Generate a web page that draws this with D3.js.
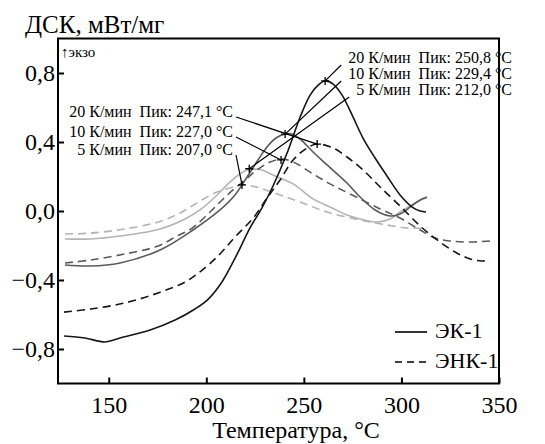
<!DOCTYPE html>
<html>
<head>
<meta charset="utf-8">
<script src="https://cdn.jsdelivr.net/npm/d3@7"></script>
<style>
  html, body { margin: 0; padding: 0; background: #fff; }
  svg text { font-family: "Liberation Serif", "Times New Roman", Times, "DejaVu Serif", serif; }
</style>
</head>
<body>
<div id="chart"></div>
<script>
// ЭК-1 (сплошные линии)
const ek20T = [127.1, 137.8, 148.1, 155.8, 171.2, 184.0, 194.2, 200.9, 208.1, 215.8, 222.4, 228.6, 234.2, 241.4, 248.1, 253.2, 257.3, 260.9, 265.0, 269.6, 274.7, 280.3, 286.5, 292.6, 299.3, 305.5, 309.6, 312.6];
const ek20 = [-0.725, -0.736, -0.759, -0.736, -0.690, -0.632, -0.568, -0.512, -0.410, -0.250, -0.098, 0.020, 0.145, 0.336, 0.545, 0.672, 0.730, 0.754, 0.736, 0.672, 0.557, 0.423, 0.307, 0.203, 0.093, 0.023, 0.000, -0.006];

const ek10T = [127.6, 140.4, 155.8, 176.3, 193.2, 207.0, 214.7, 220.9, 226.5, 231.1, 235.7, 240.4, 243.9, 248.1, 254.7, 261.9, 272.1, 278.8, 286.5, 294.2, 299.3, 304.4, 309.6, 313.1];
const ek10 = [-0.313, -0.319, -0.301, -0.226, -0.110, 0.006, 0.093, 0.197, 0.296, 0.371, 0.423, 0.446, 0.446, 0.417, 0.342, 0.267, 0.162, 0.081, 0.006, -0.029, -0.017, 0.023, 0.064, 0.081];

const ek5T = [127.6, 140.4, 155.8, 176.3, 189.1, 196.8, 204.5, 210.6, 215.8, 220.9, 225.0, 228.6, 235.2, 244.5, 254.7, 263.4, 272.1, 278.8, 287.5, 294.2, 299.3, 304.4, 309.6, 313.1];
const ek5 = [-0.162, -0.162, -0.145, -0.104, -0.046, 0.006, 0.081, 0.151, 0.203, 0.238, 0.243, 0.238, 0.203, 0.157, 0.070, 0.023, -0.023, -0.046, -0.064, -0.046, -0.006, 0.029, 0.064, 0.075];

// ЭНК-1 (штриховые линии)
const enk20T = [127.1, 140.9, 158.3, 175.3, 189.1, 197.3, 206.0, 214.7, 224.0, 231.1, 237.8, 244.5, 251.6, 256.8, 265.0, 272.1, 280.3, 289.1, 299.3, 309.6, 318.3, 327.5, 335.2, 341.3, 345.4];
const enk20 = [-0.586, -0.568, -0.533, -0.475, -0.412, -0.348, -0.261, -0.151, -0.041, 0.075, 0.180, 0.296, 0.365, 0.388, 0.365, 0.313, 0.238, 0.139, 0.029, -0.087, -0.168, -0.238, -0.278, -0.290, -0.284];

const enk10T = [127.6, 140.9, 158.3, 175.3, 185.0, 192.2, 201.9, 208.1, 213.7, 219.9, 226.0, 232.7, 238.8, 244.5, 254.7, 263.4, 273.7, 289.1, 299.3, 309.6, 317.3, 325.0, 335.2, 345.4];
const enk10 = [-0.301, -0.284, -0.249, -0.203, -0.145, -0.104, -0.006, 0.064, 0.122, 0.180, 0.238, 0.284, 0.301, 0.284, 0.215, 0.157, 0.099, 0.012, -0.041, -0.110, -0.157, -0.174, -0.180, -0.174];

const enk5T = [127.6, 140.9, 158.3, 175.3, 186.5, 196.8, 205.5, 213.7, 218.3, 223.4, 227.5, 237.8, 248.1, 261.9, 278.8, 292.6, 302.9, 313.1];
const enk5 = [-0.133, -0.128, -0.104, -0.064, -0.012, 0.058, 0.110, 0.139, 0.151, 0.145, 0.133, 0.093, 0.052, -0.006, -0.052, -0.081, -0.099, -0.099];

// Пики (метки «+») и подписи
const ekPeakLabels = ["20 К/мин  Пик: 250,8 °C", "10 К/мин  Пик: 229,4 °C", "5 К/мин  Пик: 212,0 °C"];
const ekPeakT = [260.9, 240.4, 222.0];
const ekPeakV = [0.754, 0.446, 0.245];
const enkPeakLabels = ["20 К/мин  Пик: 247,1 °C", "10 К/мин  Пик: 227,0 °C", "5 К/мин  Пик: 207,0 °C"];
const enkPeakT = [256.8, 238.3, 218.3];
const enkPeakV = [0.388, 0.296, 0.151];

const xTicks = [150, 200, 250, 300, 350];
const yTicks = [-0.8, -0.4, 0, 0.4, 0.8];
const legendNames = ["ЭК-1", "ЭНК-1"];

const W = 545, H = 444;
const margin = { top: 38.5, left: 58, right: 46, bottom: 60.5 };
const width = W - margin.left - margin.right;
const height = H - margin.top - margin.bottom;
const FONT = '"Liberation Serif", "Times New Roman", Times, "DejaVu Serif", serif';

const rateColors = ["#161616", "#5a5a5a", "#b4b4b4"];

const svg = d3.select("#chart").append("svg")
  .attr("width", W)
  .attr("height", H)
  .attr("font-family", FONT);

const g = svg.append("g")
  .attr("transform", `translate(${margin.left},${margin.top})`);

const x = d3.scaleLinear().domain([124, 350]).range([0, width]);
const y = d3.scaleLinear().domain([-1, 1]).range([height, 0]);

const fmt = (d) => (d < 0 ? "\u2212" : "") + Math.abs(d).toFixed(1).replace(".", ",");

// Оси (риски внутрь)
g.append("g")
  .attr("transform", `translate(0,${height})`)
  .call(d3.axisBottom(x).tickValues(xTicks).tickSizeInner(-6).tickSizeOuter(0).tickPadding(12))
  .call((a) => {
    a.attr("font-family", FONT).attr("font-size", 24);
    a.select(".domain").remove();
    a.selectAll(".tick line").attr("stroke", "#000").attr("stroke-width", 2);
    a.selectAll(".tick text").attr("fill", "#000");
  });

g.append("g")
  .call(d3.axisLeft(y).tickValues(yTicks).tickFormat(fmt).tickSizeInner(-6).tickSizeOuter(0).tickPadding(3))
  .call((a) => {
    a.attr("font-family", FONT).attr("font-size", 24);
    a.select(".domain").remove();
    a.selectAll(".tick line").attr("stroke", "#000").attr("stroke-width", 2);
    a.selectAll(".tick text").attr("fill", "#000");
  });

// Кривые
const series = [
  { T: enk5T, v: enk5, color: rateColors[2], dash: "8,5" },
  { T: ek5T, v: ek5, color: rateColors[2], dash: null },
  { T: enk10T, v: enk10, color: rateColors[1], dash: "8,5" },
  { T: ek10T, v: ek10, color: rateColors[1], dash: null },
  { T: enk20T, v: enk20, color: rateColors[0], dash: "8,5" },
  { T: ek20T, v: ek20, color: rateColors[0], dash: null },
];

const line = d3.line()
  .x((d) => x(d[0]))
  .y((d) => y(d[1]))
  .curve(d3.curveCatmullRom.alpha(0.5));

series.forEach((s) => {
  g.append("path")
    .datum(s.T.map((t, i) => [t, s.v[i]]))
    .attr("fill", "none")
    .attr("stroke", s.color)
    .attr("stroke-width", 1.6)
    .attr("stroke-dasharray", s.dash)
    .attr("d", line);
});

// Подписи пиков с выносками
const ann = g.append("g").attr("font-size", 16);

const addLabels = (labels, pT, pV, side) => {
  labels.forEach((lab, i) => {
    let x0, y0;
    if (side === "right") {
      const base = 63 + i * 16 - margin.top;
      const t = ann.append("text")
        .attr("x", 512 - margin.left)
        .attr("y", base)
        .attr("text-anchor", "end")
        .style("white-space", "pre")
        .text(lab);
      const len = t.node().getComputedTextLength();
      x0 = 512 - margin.left - len - 7;
      y0 = base + 2;
    } else {
      const base = [117, 137, 155][i] - margin.top;
      ann.append("text")
        .attr("x", 233 - margin.left)
        .attr("y", base)
        .attr("text-anchor", "end")
        .style("white-space", "pre")
        .text(lab);
      x0 = 236 - margin.left;
      y0 = base;
    }
    const px = x(pT[i]), py = y(pV[i]);
    ann.append("line")
      .attr("x1", x0).attr("y1", y0)
      .attr("x2", px).attr("y2", py)
      .attr("stroke", "#000").attr("stroke-width", 1.2);
    ann.append("path")
      .attr("transform", `translate(${px},${py})`)
      .attr("d", "M-4,0H4M0,-4V4")
      .attr("stroke", "#000").attr("stroke-width", 1.3);
  });
};

addLabels(ekPeakLabels, ekPeakT, ekPeakV, "right");
addLabels(enkPeakLabels, enkPeakT, enkPeakV, "left");

// Рамка
g.append("rect")
  .attr("width", width)
  .attr("height", height)
  .attr("fill", "none")
  .attr("stroke", "#000")
  .attr("stroke-width", 2);

// Легенда
const leg = g.append("g").attr("transform", `translate(${395 - margin.left},${332 - margin.top})`);
legendNames.forEach((name, i) => {
  leg.append("line")
    .attr("x1", 0).attr("x2", 32)
    .attr("y1", i * 30).attr("y2", i * 30)
    .attr("stroke", "#000").attr("stroke-width", 1.6)
    .attr("stroke-dasharray", i === 1 ? "7,5" : null);
  leg.append("text")
    .attr("x", 40)
    .attr("y", i * 30 + 6)
    .attr("font-size", 22)
    .text(name);
});

// Заголовки осей
svg.append("text")
  .attr("x", 25)
  .attr("y", 33)
  .attr("font-size", 25)
  .text("ДСК, мВт/мг");

svg.append("text")
  .attr("x", 61)
  .attr("y", 57)
  .attr("font-size", 15)
  .text("↑экзо");

svg.append("text")
  .attr("x", 296)
  .attr("y", 438)
  .attr("text-anchor", "middle")
  .attr("font-size", 24)
  .text("Температура, °C");
</script>
</body>
</html>
